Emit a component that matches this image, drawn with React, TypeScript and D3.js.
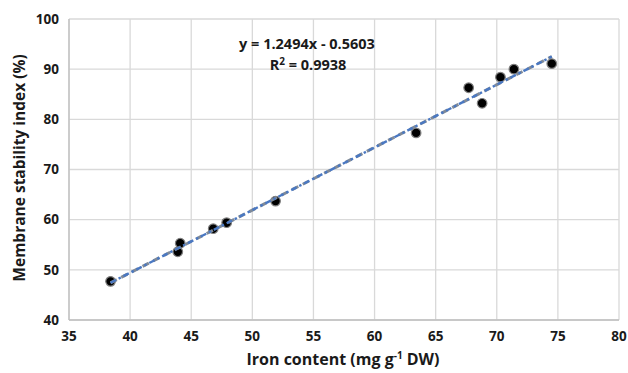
import * as d3 from "d3";

const ironContent = [38.4, 43.9, 44.1, 46.8, 47.9, 51.9, 63.4, 67.7, 68.8, 70.3, 71.4, 74.5];
const stabilityIndex = [47.7, 53.6, 55.3, 58.2, 59.4, 63.7, 77.3, 86.3, 83.2, 88.4, 90.0, 91.1];
const xTicks = [35, 40, 45, 50, 55, 60, 65, 70, 75, 80];
const yTicks = [40, 50, 60, 70, 80, 90, 100];
const slope = 1.2494;
const intercept = -0.5603;

const font = "'Open Sans', 'Liberation Sans', sans-serif";

export default function App() {
  const width = 628;
  const height = 373;
  const x = d3.scaleLinear().domain([35, 80]).range([69, 619]);
  const y = d3.scaleLinear().domain([40, 100]).range([320, 19]);

  const xMin = d3.min(ironContent)!;
  const xMax = d3.max(ironContent)!;
  const trend = d3
    .line<number>()
    .x((d) => x(d))
    .y((d) => y(slope * d + intercept))([xMin, xMax])!;

  return (
    <svg
      width={width}
      height={height}
      style={{ position: "absolute", left: 0, top: 0, background: "#fff" }}
      fontFamily={font}
    >
      {/* grid */}
      {yTicks.map((t) => (
        <line key={"gy" + t} x1={x(35)} x2={x(80)} y1={y(t)} y2={y(t)} stroke="#d9d9d9" strokeWidth={1.3} />
      ))}
      {xTicks.map((t) => (
        <line key={"gx" + t} x1={x(t)} x2={x(t)} y1={y(40)} y2={y(100)} stroke="#d9d9d9" strokeWidth={1.3} />
      ))}
      {/* axes */}
      <line x1={x(35)} x2={x(80)} y1={y(40)} y2={y(40)} stroke="#bfbfbf" strokeWidth={1.3} />
      <line x1={x(35)} x2={x(35)} y1={y(40)} y2={y(100)} stroke="#bfbfbf" strokeWidth={1.3} />

      {yTicks.map((t) => (
        <text key={"ty" + t} x={x(35) - 10} y={y(t)} dy="0.35em" textAnchor="end" fontSize={13.5} fontWeight="bold" fill="#1a1a1a">
          {t}
        </text>
      ))}
      {xTicks.map((t) => (
        <text key={"tx" + t} x={x(t)} y={y(40) + 16} dy="0.35em" textAnchor="middle" fontSize={13.5} fontWeight="bold" fill="#1a1a1a">
          {t}
        </text>
      ))}

      {/* points */}
      {ironContent.map((v, i) => (
        <circle key={"p" + i} cx={x(v)} cy={y(stabilityIndex[i])} r={4.8} fill="#000" stroke="#7f7f7f" strokeWidth={1.2} />
      ))}

      {/* trendline */}
      <path d={trend} fill="none" stroke="#7f8a99" strokeWidth={3} strokeDasharray="7,5" />
      <path d={trend} fill="none" stroke="#4a78c2" strokeWidth={2.4} strokeDasharray="6,3,2.5,3" />

      {/* equation */}
      <text x={307} y={44} dy="0.35em" textAnchor="middle" fontSize={14.5} fontWeight="bold" fill="#1a1a1a">
        y = 1.2494x - 0.5603
      </text>
      <text x={308} y={65} dy="0.35em" textAnchor="middle" fontSize={14.5} fontWeight="bold" fill="#1a1a1a">
        R<tspan dy="-5" fontSize={10}>2</tspan>
        <tspan dy="5"> = 0.9938</tspan>
      </text>

      {/* axis titles */}
      <text x={343} y={359} dy="0.35em" textAnchor="middle" fontSize={16} fontWeight="bold" fill="#1a1a1a">
        Iron content (mg g<tspan dy="-6" fontSize={10}>-1</tspan>
        <tspan dy="6"> DW)</tspan>
      </text>
      <text
        transform={`translate(19.5,168) rotate(-90)`}
        dy="0.35em"
        textAnchor="middle"
        fontSize={15.5}
        fontWeight="bold"
        fill="#1a1a1a"
      >
        Membrane stability index (%)
      </text>
    </svg>
  );
}
